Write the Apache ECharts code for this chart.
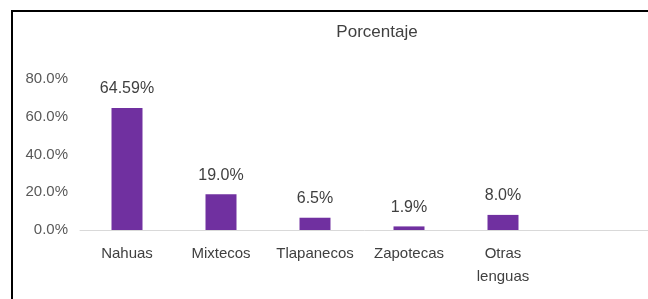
<!DOCTYPE html>
<html>
<head>
<meta charset="utf-8">
<script src="https://cdn.jsdelivr.net/npm/echarts@6/dist/echarts.min.js"></script>
<style>
  html, body { margin: 0; padding: 0; background: #fff; }
  #chart { width: 648px; height: 299px; }
</style>
</head>
<body>
<div id="chart"></div>
<script>
var categories = ['Nahuas', 'Mixtecos', 'Tlapanecos', 'Zapotecas', 'Otras\nlenguas'];
var values = [64.59, 19.0, 6.5, 1.9, 8.0];
var valueLabels = ['64.59%', '19.0%', '6.5%', '1.9%', '8.0%'];
var yTicks = [0, 20, 40, 60, 80];

// el eje continua fuera del recorte: categorias vacias a la derecha
var paddedCats = categories.concat(['', '']);
var paddedVals = values.concat([null, null]);

var chart = echarts.init(document.getElementById('chart'));

var option = {
    animation: false,
    textStyle: { fontFamily: 'Liberation Sans' },
    title: {
        text: 'Porcentaje',
        left: 372,
        top: 19,
        textAlign: 'center',
        textStyle: { fontSize: 17, fontWeight: 'normal', color: '#404040', fontFamily: 'Liberation Sans' }
    },
    graphic: [{
        type: 'rect',
        shape: { x: 12, y: 11, width: 700, height: 400 },
        style: { fill: 'none', stroke: '#000', lineWidth: 2 },
        silent: true
    }],
    grid: {
        left: 80,
        right: -90,
        top: 79,
        bottom: 69,
        containLabel: false,
        outerBoundsMode: 'none'
    },
    xAxis: {
        type: 'category',
        data: paddedCats,
        axisTick: { show: false },
        axisLine: { lineStyle: { color: '#d9d9d9', width: 1 } },
        axisLabel: {
            color: '#404040',
            fontSize: 15,
            margin: 12,
            lineHeight: 23,
            interval: 0
        }
    },
    yAxis: {
        type: 'value',
        min: 0,
        max: 80,
        interval: 20,
        splitLine: { show: false },
        axisLine: { show: false },
        axisTick: { show: false },
        axisLabel: {
            color: '#595959',
            fontSize: 15,
            margin: 12,
            formatter: function (v) {
                return yTicks.indexOf(v) >= 0 ? v.toFixed(1) + '%' : '';
            }
        }
    },
    series: [{
        type: 'bar',
        data: paddedVals,
        barWidth: 31,
        itemStyle: { color: '#7030A0' },
        label: {
            show: true,
            position: 'top',
            distance: 11,
            color: '#404040',
            fontSize: 16,
            formatter: function (p) {
                return valueLabels[p.dataIndex] || '';
            }
        }
    }]
};

chart.setOption(option);
</script>
</body>
</html>
